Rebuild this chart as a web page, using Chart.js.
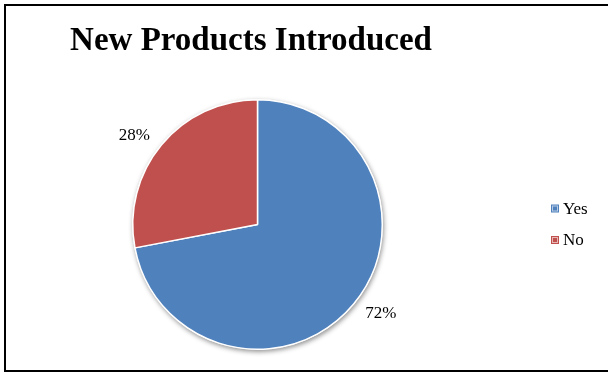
<!DOCTYPE html>
<html>
<head>
<meta charset="utf-8">
<script src="https://cdn.jsdelivr.net/npm/chart.js@4.4.1/dist/chart.umd.min.js"></script>
<style>
  html, body { margin: 0; padding: 0; background: #fff; }
  #wrap { position: relative; width: 608px; height: 372px; overflow: hidden; }
  #frame { position: absolute; left: 4px; top: 4px; width: 640px; height: 364px; border: 2px solid #000; }
  canvas { position: absolute; left: 0; top: 0; }
</style>
</head>
<body>
<div id="wrap">
  <div id="frame"></div>
  <canvas id="chart" width="608" height="372"></canvas>
</div>
<script>
const title = 'New Products Introduced'
const categories = ['Yes', 'No']
const shares = [72, 28]
const colors = ['#4F81BD', '#C0504D']
const serif = '"Liberation Serif", "Times New Roman", serif'

// white disc with soft shadow behind the pie
const pieShadow = {
  id: 'pieShadow',
  beforeDatasetsDraw(chart) {
    const arc = chart.getDatasetMeta(0).data[0]
    if (!arc) return
    const { ctx } = chart
    ctx.save()
    ctx.shadowColor = 'rgba(0,0,0,0.45)'
    ctx.shadowBlur = 5
    ctx.shadowOffsetX = 1
    ctx.shadowOffsetY = 2
    ctx.fillStyle = '#fff'
    ctx.beginPath()
    ctx.arc(arc.x, arc.y, arc.outerRadius + 0.5, 0, Math.PI * 2)
    ctx.fill()
    ctx.restore()
  }
}

// title, percent labels (outside end) and legend
const decorations = {
  id: 'decorations',
  afterDraw(chart) {
    const { ctx } = chart
    ctx.save()
    ctx.fillStyle = '#000'
    ctx.textBaseline = 'alphabetic'
    ctx.textAlign = 'center'
    ctx.font = 'bold 33px ' + serif
    ctx.fillText(title, 251, 50)

    ctx.font = '17px ' + serif
    ctx.textBaseline = 'middle'
    chart.getDatasetMeta(0).data.forEach((arc, i) => {
      const mid = (arc.startAngle + arc.endAngle) / 2
      const d = arc.outerRadius * 1.12
      const x = arc.x + Math.cos(mid) * d
      const y = arc.y + Math.sin(mid) * d
      ctx.textAlign = Math.cos(mid) < 0 ? 'right' : 'left'
      ctx.fillText(shares[i] + '%', x, y)
    })

    ctx.textAlign = 'left'
    categories.forEach((c, i) => {
      const y = 208.5 + i * 31.5
      ctx.fillStyle = colors[i]
      ctx.fillRect(551, y - 4, 8, 8)
      ctx.strokeStyle = 'rgba(255,255,255,0.6)'
      ctx.lineWidth = 1
      ctx.strokeRect(552.5, y - 2.5, 5, 5)
      ctx.fillStyle = '#000'
      ctx.fillText(c, 563, y + 1)
    })
    ctx.restore()
  }
}

new Chart(document.getElementById('chart'), {
  type: 'pie',
  data: {
    labels: categories,
    datasets: [{
      data: shares,
      backgroundColor: colors,
      borderColor: '#fff',
      borderWidth: 1.5
    }]
  },
  options: {
    responsive: false,
    animation: false,
    layout: { padding: { left: 132, right: 225, top: 99, bottom: 22 } },
    plugins: {
      legend: { display: false },
      title: { display: false },
      tooltip: { enabled: false }
    }
  },
  plugins: [pieShadow, decorations]
})
</script>
</body>
</html>
